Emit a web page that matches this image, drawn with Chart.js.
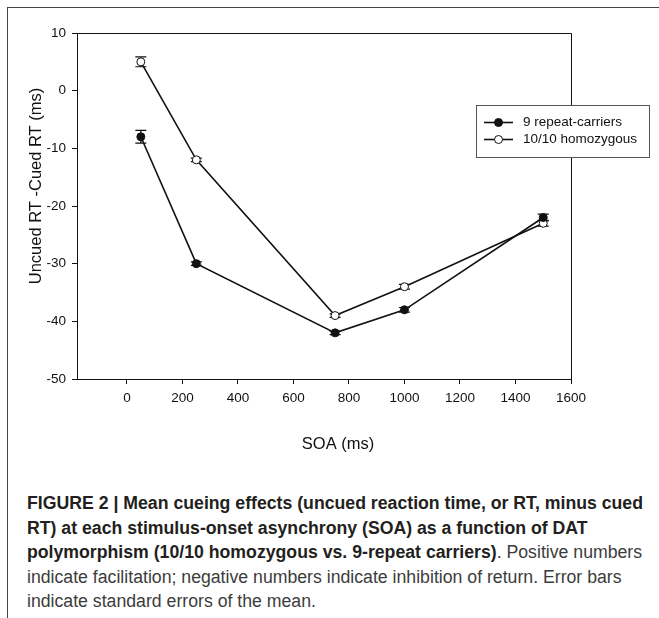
<!DOCTYPE html>
<html lang="en">
<head>
  <meta charset="UTF-8" />
  <title>Mean cueing effects by SOA</title>
  <script src="https://cdn.jsdelivr.net/npm/chart.js"></script>
  <style>
    html, body { margin: 0; padding: 0; background: #fff; }
    .page { position: relative; width: 659px; height: 618px; overflow: hidden; }
    .frame {
      position: absolute; left: 7px; top: 7px; right: -2px; bottom: -2px;
      border-left: 1.5px solid #444; border-top: 1.5px solid #444;
    }
    #grafico { position: absolute; left: 0; top: 0; }
    .caption {
      position: absolute; left: 27px; top: 491px;
      font-family: 'Liberation Sans', Arial, sans-serif;
      font-size: 18px; line-height: 24.6px; color: #3c3c3c; white-space: nowrap;
      transform-origin: 0 0;
    }
    .caption span { display: block; }
    .caption b { color: #231f20; }
  </style>
</head>
<body>
  <div class="page">
    <div class="frame"></div>
    <canvas id="grafico" width="659" height="470"></canvas>
    <div class="caption" id="caption">
      <span id="linea1"><b>FIGURE 2 | Mean cueing effects (uncued reaction time, or RT, minus cued</b></span>
      <span><b>RT) at each stimulus-onset asynchrony (SOA) as a function of DAT</b></span>
      <span><b>polymorphism (10/10 homozygous vs. 9-repeat carriers)</b>. Positive numbers</span>
      <span>indicate facilitation; negative numbers indicate inhibition of return. Error bars</span>
      <span>indicate standard errors of the mean.</span>
    </div>
  </div>

  <script>
    // valores
    const soa = [50, 250, 750, 1000, 1500];
    const repeat9 = [-8, -30, -42, -38, -22];
    const repeat9Err = [1.1, 0.3, 0.3, 0.4, 0.6];
    const homo1010 = [5, -12, -39, -34, -23];
    const homo1010Err = [0.85, 0.3, 0.3, 0.4, 0.5];
    const seriesLabels = ['9 repeat-carriers', '10/10 homozygous'];
    const xTicks = [0, 200, 400, 600, 800, 1000, 1200, 1400, 1600];
    const yTicks = [-50, -40, -30, -20, -10, 0, 10];
    const xTitle = 'SOA (ms)';
    const yTitle = 'Uncued RT -Cued RT (ms)';

    // ajustar el pie de figura al ancho (fuente condensada en el original)
    const linea1 = document.getElementById('linea1');
    const ancho = linea1.firstElementChild.getBoundingClientRect().width;
    document.getElementById('caption').style.transform = 'scaleX(' + (616 / ancho) + ')';

    Chart.defaults.font.family = "'Liberation Sans', Arial, sans-serif";
    Chart.defaults.font.size = 13.5;
    Chart.defaults.color = '#111';

    const toPoints = (ys) => soa.map((x, i) => ({ x: x, y: ys[i] }));

    const marcoPlugin = {
      id: 'marco',
      beforeDatasetsDraw(chart) {
        const a = chart.chartArea;
        const ctx = chart.ctx;
        ctx.save();
        ctx.strokeStyle = '#111';
        ctx.lineWidth = 1;
        ctx.beginPath();
        ctx.moveTo(a.left, a.top + 0.5);
        ctx.lineTo(a.right + 0.5, a.top + 0.5);
        ctx.lineTo(a.right + 0.5, a.bottom);
        ctx.stroke();
        ctx.restore();
      }
    };

    const erroresPlugin = {
      id: 'errores',
      beforeDatasetsDraw(chart) {
        const ctx = chart.ctx;
        const xs = chart.scales.x, ys = chart.scales.y;
        const errs = [repeat9Err, homo1010Err];
        const vals = [repeat9, homo1010];
        ctx.save();
        ctx.strokeStyle = '#111';
        ctx.lineWidth = 1.2;
        errs.forEach((err, d) => {
          soa.forEach((x, i) => {
            const px = xs.getPixelForValue(x);
            const top = ys.getPixelForValue(vals[d][i] + err[i]);
            const bot = ys.getPixelForValue(vals[d][i] - err[i]);
            ctx.beginPath();
            ctx.moveTo(px, top); ctx.lineTo(px, bot);
            ctx.moveTo(px - 5.5, top); ctx.lineTo(px + 5.5, top);
            ctx.moveTo(px - 5.5, bot); ctx.lineTo(px + 5.5, bot);
            ctx.stroke();
          });
        });
        ctx.restore();
      }
    };

    const textosPlugin = {
      id: 'textos',
      afterDraw(chart) {
        const ctx = chart.ctx;
        ctx.save();
        ctx.fillStyle = '#111';
        ctx.font = "16.5px 'Liberation Sans', Arial, sans-serif";
        ctx.textAlign = 'center';
        ctx.textBaseline = 'middle';
        ctx.fillText(xTitle, 338, 444);
        ctx.translate(36, 186);
        ctx.rotate(-Math.PI / 2);
        ctx.fillText(yTitle, 0, 0);
        ctx.restore();

        // leyenda
        const bx = 476, by = 105, bw = 173, bh = 52;
        ctx.save();
        ctx.fillStyle = '#fff';
        ctx.fillRect(bx, by, bw, bh);
        ctx.strokeStyle = '#555';
        ctx.lineWidth = 1;
        ctx.strokeRect(bx + 0.5, by + 0.5, bw, bh);
        chart.data.datasets.forEach((ds, i) => {
          const cy = 122.5 + i * 17;
          ctx.strokeStyle = ds.borderColor;
          ctx.lineWidth = ds.borderWidth;
          ctx.beginPath();
          ctx.moveTo(484, cy); ctx.lineTo(513, cy);
          ctx.stroke();
          ctx.beginPath();
          ctx.arc(498.5, cy, ds.pointRadius, 0, Math.PI * 2);
          ctx.fillStyle = ds.pointBackgroundColor;
          ctx.fill();
          ctx.lineWidth = ds.pointBorderWidth;
          ctx.strokeStyle = ds.pointBorderColor;
          ctx.stroke();
          ctx.fillStyle = '#111';
          ctx.font = "13.5px 'Liberation Sans', Arial, sans-serif";
          ctx.textAlign = 'left';
          ctx.textBaseline = 'middle';
          ctx.fillText(ds.label, 523, cy);
        });
        ctx.restore();
      }
    };

    const ctx = document.getElementById('grafico').getContext('2d');
    new Chart(ctx, {
      type: 'line',
      data: {
        datasets: [
          {
            label: seriesLabels[0],
            data: toPoints(repeat9),
            borderColor: '#111',
            borderWidth: 1.6,
            pointRadius: 4,
            pointBackgroundColor: '#111',
            pointBorderColor: '#111',
            pointBorderWidth: 1,
            tension: 0
          },
          {
            label: seriesLabels[1],
            data: toPoints(homo1010),
            borderColor: '#111',
            borderWidth: 1.6,
            pointRadius: 4,
            pointBackgroundColor: '#fff',
            pointBorderColor: '#111',
            pointBorderWidth: 1,
            tension: 0
          }
        ]
      },
      options: {
        responsive: false,
        animation: false,
        layout: { padding: { top: 33, right: 88, left: 0, bottom: 0 } },
        plugins: {
          legend: { display: false },
          tooltip: { enabled: false }
        },
        scales: {
          x: {
            type: 'linear',
            min: -180,
            max: 1600,
            afterBuildTicks: s => { s.ticks = xTicks.map(v => ({ value: v })); },
            afterFit: s => { s.height = 91; },
            grid: { drawOnChartArea: false, drawTicks: true, tickLength: 5, color: '#111' },
            border: { color: '#111', width: 1 },
            ticks: { padding: 6, maxRotation: 0, autoSkip: false, color: '#111', callback: v => String(v) }
          },
          y: {
            min: -50,
            max: 10,
            afterBuildTicks: s => { s.ticks = yTicks.map(v => ({ value: v })); },
            afterFit: s => { s.width = 77; },
            grid: { drawOnChartArea: false, drawTicks: true, tickLength: 5, color: '#111' },
            border: { color: '#111', width: 1 },
            ticks: { padding: 6, color: '#111', callback: v => String(v) }
          }
        }
      },
      plugins: [marcoPlugin, erroresPlugin, textosPlugin]
    });
  </script>
</body>
</html>
